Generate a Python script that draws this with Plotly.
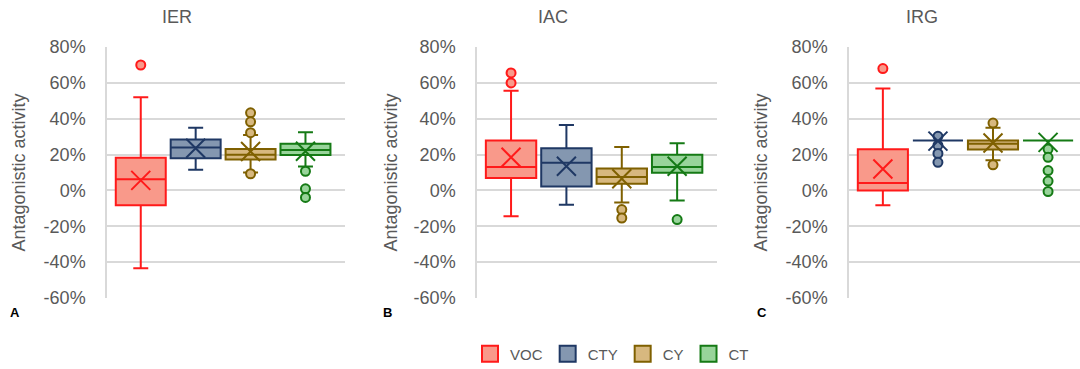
import plotly.graph_objects as go

# ---------------- data ----------------
series = ["VOC", "CTY", "CY", "CT"]
panels = ["IER", "IAC", "IRG"]
panel_letters = ["A", "B", "C"]

tick_vals = [-0.6, -0.4, -0.2, 0.0, 0.2, 0.4, 0.6, 0.8]
tick_text = ["-60%", "-40%", "-20%", "0%", "20%", "40%", "60%", "80%"]

# IER
ier_lower = [-0.435, 0.115, 0.100, 0.133]
ier_q1 = [-0.083, 0.180, 0.173, 0.198]
ier_median = [0.063, 0.240, 0.199, 0.225]
ier_q3 = [0.183, 0.284, 0.231, 0.260]
ier_upper = [0.520, 0.350, 0.309, 0.325]
ier_mean = [0.056, 0.235, 0.217, 0.219]
ier_outliers = [[0.70], [], [0.433, 0.383, 0.322, 0.093], [0.107, 0.009, -0.039]]

# IAC
iac_lower = [-0.144, -0.080, -0.067, -0.056]
iac_q1 = [0.069, 0.022, 0.037, 0.099]
iac_median = [0.131, 0.154, 0.075, 0.131]
iac_q3 = [0.278, 0.235, 0.123, 0.199]
iac_upper = [0.556, 0.365, 0.243, 0.263]
iac_mean = [0.185, 0.135, 0.065, 0.135]
iac_outliers = [[0.656, 0.600], [], [-0.107, -0.154], [-0.163]]

# IRG
irg_lower = [-0.083, 0.278, 0.169, 0.278]
irg_q1 = [0.000, 0.278, 0.228, 0.278]
irg_median = [0.041, 0.278, 0.260, 0.278]
irg_q3 = [0.230, 0.278, 0.278, 0.278]
irg_upper = [0.569, 0.278, 0.350, 0.278]
irg_mean = [0.120, 0.275, 0.265, 0.268]
irg_outliers = [[0.680], [0.302, 0.252, 0.206, 0.157], [0.376, 0.143],
                [0.231, 0.185, 0.111, 0.052, -0.006]]

# ---------------- styles ----------------
line_colors = ["#FF1A1A", "#1F3864", "#7F6000", "#157A15"]
fill_colors = ["#F9998A", "#8497B0", "#D7B87F", "#98D49A"]
grey = "#595959"
font_family = "Liberation Sans, Arial, sans-serif"

W, H = 1080, 369
plot_top, plot_bottom = 47, 298
x_domains_px = [(107, 345), (477, 717), (849, 1080)]
x_ranges = [[-0.615, 3.72], [-0.615, 3.72], [-0.615, 3.58]]
title_x_px = [177, 553, 922]
ytitle_x_px = [18, 390, 760]
letter_x_px = [15, 387, 762]

panel_data = [
    (ier_lower, ier_q1, ier_median, ier_q3, ier_upper, ier_mean, ier_outliers),
    (iac_lower, iac_q1, iac_median, iac_q3, iac_upper, iac_mean, iac_outliers),
    (irg_lower, irg_q1, irg_median, irg_q3, irg_upper, irg_mean, irg_outliers),
]

fig = go.Figure()
ydom = [1 - plot_bottom / H, 1 - plot_top / H]

for p, (lo, q1, med, q3, up, mean, outs) in enumerate(panel_data):
    xa = "x" if p == 0 else f"x{p+1}"
    ya = "y" if p == 0 else f"y{p+1}"
    for i, s in enumerate(series):
        fig.add_trace(go.Box(
            x=[i], lowerfence=[lo[i]], q1=[q1[i]], median=[med[i]], q3=[q3[i]],
            upperfence=[up[i]], width=0.91, whiskerwidth=0.3,
            fillcolor=fill_colors[i], line=dict(color=line_colors[i], width=2),
            boxpoints=False, showlegend=False, name=s, xaxis=xa, yaxis=ya,
            hoverinfo="skip"))
        if outs[i]:
            fig.add_trace(go.Scatter(
                x=[i] * len(outs[i]), y=outs[i], mode="markers",
                marker=dict(symbol="circle", size=9, color=fill_colors[i],
                            line=dict(color=line_colors[i], width=2)),
                showlegend=False, xaxis=xa, yaxis=ya, hoverinfo="skip"))
        fig.add_trace(go.Scatter(
            x=[i], y=[mean[i]], mode="markers",
            marker=dict(symbol="x-thin", size=19, color=line_colors[i],
                        line=dict(color=line_colors[i], width=2)),
            showlegend=False, xaxis=xa, yaxis=ya, hoverinfo="skip"))

# legend entries
for i, s in enumerate(series):
    fig.add_trace(go.Scatter(
        x=[None], y=[None], mode="markers", name=s,
        marker=dict(symbol="square", size=16, color=fill_colors[i],
                    line=dict(color=line_colors[i], width=2)),
        showlegend=True))

layout = dict(
    width=W, height=H, margin=dict(l=0, r=0, t=0, b=0, autoexpand=False),
    paper_bgcolor="white", plot_bgcolor="white",
    font=dict(family=font_family, color=grey, size=18),
    boxmode="overlay",
    showlegend=True,
    legend=dict(orientation="h", x=612 / W, xanchor="center",
                y=1 - 354 / H, yanchor="middle",
                font=dict(size=15, color=grey, family=font_family),
                itemclick=False, itemdoubleclick=False),
)

annotations = []
for p in range(3):
    xk = "xaxis" if p == 0 else f"xaxis{p+1}"
    yk = "yaxis" if p == 0 else f"yaxis{p+1}"
    xa = "x" if p == 0 else f"x{p+1}"
    d0, d1 = x_domains_px[p]
    layout[xk] = dict(domain=[d0 / W, d1 / W], range=x_ranges[p],
                      showgrid=False, zeroline=False, showticklabels=False,
                      ticks="", showline=False, anchor="y" if p == 0 else f"y{p+1}",
                      fixedrange=True)
    layout[yk] = dict(domain=ydom, range=[-0.6005, 0.8005],
                      tickvals=tick_vals, ticktext=tick_text,
                      showgrid=True, gridcolor="#D9D9D9", gridwidth=1.5,
                      zeroline=False, showline=True, linecolor="#D9D9D9",
                      linewidth=1.5, ticks="", ticklabelstandoff=16,
                      tickfont=dict(size=18, color=grey),
                      anchor=xa, fixedrange=True)
    annotations.append(dict(text=panels[p], x=title_x_px[p] / W, y=1 - 17 / H,
                            xref="paper", yref="paper", showarrow=False,
                            xanchor="center", yanchor="middle",
                            font=dict(size=18, color=grey)))
    annotations.append(dict(text="Antagonistic activity", x=ytitle_x_px[p] / W,
                            y=(ydom[0] + ydom[1]) / 2, xref="paper", yref="paper",
                            showarrow=False, textangle=-90, xanchor="center",
                            yanchor="middle", font=dict(size=18, color=grey)))
    annotations.append(dict(text="<b>" + panel_letters[p] + "</b>",
                            x=letter_x_px[p] / W, y=1 - 312 / H,
                            xref="paper", yref="paper", showarrow=False,
                            xanchor="center", yanchor="middle",
                            font=dict(size=13, color="black")))
layout["annotations"] = annotations

fig.update_layout(**layout)
fig.write_html("out.html")
